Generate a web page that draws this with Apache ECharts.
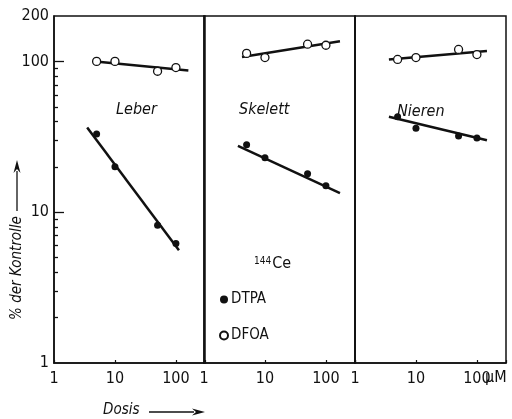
<!DOCTYPE html>
<html>
<head>
<meta charset="utf-8">
<script src="https://cdn.jsdelivr.net/npm/echarts@6/dist/echarts.min.js"></script>
<style>
html, body { margin: 0; padding: 0; background: #fff; }
#main { width: 512px; height: 419px; }
</style>
</head>
<body>
<div id="main"></div>
<script>
// doses (µM) used in every panel
var doses = [5, 10, 50, 100];

// % der Kontrolle
var leberDFOA = [100, 100, 86, 91];
var leberDTPA = [33, 20, 8.2, 6.2];
var skelettDFOA = [113, 106, 130, 128];
var skelettDTPA = [28, 23, 18, 15];
var nierenDFOA = [103, 106, 120, 111];
var nierenDTPA = [43, 36, 32, 31];

// fitted lines: [dose, value] at both ends
var leberDFOAFit = [[4.8, 100], [160, 87]];
var leberDTPAFit = [[3.5, 36.5], [112, 5.6]];
var skelettDFOAFit = [[4.2, 107], [170, 136]];
var skelettDTPAFit = [[3.6, 27.5], [170, 13.4]];
var nierenDFOAFit = [[3.6, 103], [146, 117]];
var nierenDTPAFit = [[3.6, 43], [146, 30]];

var panelNames = ['Leber', 'Skelett', 'Nieren'];
var xTickLabels = [1, 10, 100];
var yTickLabels = [1, 10, 100, 200];
var yMajorTicks = [10, 100];
var yMinorTicks = [2, 3, 4, 5, 6, 7, 8, 9, 20, 30, 40, 50, 60, 70, 80, 90];

var font = '"DejaVu Sans Condensed", "Liberation Sans Narrow", sans-serif';
var ink = '#111';

function pairs(xs, ys) {
    var out = [];
    for (var i = 0; i < xs.length; i++) out.push([xs[i], ys[i]]);
    return out;
}

var panels = [
    {dfoa: leberDFOA, dtpa: leberDTPA, dfoaFit: leberDFOAFit, dtpaFit: leberDTPAFit},
    {dfoa: skelettDFOA, dtpa: skelettDTPA, dfoaFit: skelettDFOAFit, dtpaFit: skelettDTPAFit},
    {dfoa: nierenDFOA, dtpa: nierenDTPA, dfoaFit: nierenDFOAFit, dtpaFit: nierenDTPAFit}
];

var grids = [], xAxes = [], yAxes = [], series = [];
var lefts = [54, 204, 355];

for (var p = 0; p < 3; p++) {
    grids.push({
        left: lefts[p], top: 16, width: 151, height: 347,
        show: true, borderColor: ink, borderWidth: 1.5
    });
    xAxes.push({
        type: 'log', logBase: 10, min: 1, max: 300, gridIndex: p,
        axisLine: {show: true, onZero: false, lineStyle: {color: ink, width: 1.5}},
        splitLine: {show: false},
        axisTick: {show: true, inside: true, length: 3, lineStyle: {color: ink, width: 1.2}},
        axisLabel: {
            margin: 8, color: ink, fontFamily: font, fontSize: 16,
            formatter: function (v) {
                var r = Math.round(v);
                return xTickLabels.indexOf(r) >= 0 && Math.abs(v - r) < 1e-6 ? String(r) : '';
            }
        }
    });
    yAxes.push({
        type: 'log', logBase: 10, min: 1, max: 200, gridIndex: p,
        axisLine: {show: true, onZero: false, lineStyle: {color: ink, width: 1.5}},
        splitLine: {show: false},
        axisTick: {show: false},
        axisLabel: {
            show: p === 0, margin: 5, color: ink, fontFamily: font, fontSize: 16,
            formatter: function (v) {
                var r = Math.round(v);
                return yTickLabels.indexOf(r) >= 0 ? String(r) : '';
            }
        }
    });

    var d = panels[p];
    series.push({
        name: 'fit', type: 'line', xAxisIndex: p, yAxisIndex: p,
        data: d.dtpaFit, symbol: 'none', silent: true,
        lineStyle: {color: ink, width: 2.5}, z: 2
    });
    series.push({
        name: 'fit', type: 'line', xAxisIndex: p, yAxisIndex: p,
        data: d.dfoaFit, symbol: 'none', silent: true,
        lineStyle: {color: ink, width: 2.5}, z: 2
    });
    series.push({
        name: 'DTPA', type: 'scatter', xAxisIndex: p, yAxisIndex: p,
        data: pairs(doses, d.dtpa), symbol: 'circle', symbolSize: 7,
        itemStyle: {color: ink, opacity: 1}, z: 3
    });
    series.push({
        name: 'DFOA', type: 'scatter', xAxisIndex: p, yAxisIndex: p,
        data: pairs(doses, d.dfoa), symbol: 'circle', symbolSize: 8,
        itemStyle: {color: '#fff', borderColor: ink, borderWidth: 1.3, opacity: 1}, z: 3
    });
}

// y ticks on the left axis, on invisible grids over panel 1 (log10 on a linear axis)
function tickAxis(values, len) {
    var g = grids.length;
    grids.push({left: 54, top: 16, width: 151, height: 347, show: false});
    xAxes.push({type: 'value', gridIndex: g, show: false, min: 0, max: 1});
    yAxes.push({
        type: 'value', gridIndex: g, min: 0, max: Math.log10(200), position: 'left',
        axisLine: {show: false}, splitLine: {show: false}, axisLabel: {show: false},
        axisTick: {
            show: true, inside: true, length: len,
            customValues: values.map(function (v) { return Math.log10(v); }),
            lineStyle: {color: ink, width: 1.3}
        }
    });
}
tickAxis(yMajorTicks, 10);
tickAxis(yMinorTicks, 4);

function arrow(x1, y1, x2, y2) {
    var dx = x2 - x1, dy = y2 - y1, len = Math.sqrt(dx * dx + dy * dy);
    var ux = dx / len, uy = dy / len;
    var bx = x2 - ux * 11, by = y2 - uy * 11;
    return [
        {type: 'line', shape: {x1: x1, y1: y1, x2: bx, y2: by}, style: {stroke: ink, lineWidth: 1.3}},
        {type: 'polygon', shape: {points: [
            [x2, y2], [bx - uy * 3.5 - ux * 2, by + ux * 3.5 - uy * 2], [bx + ux * 2, by + uy * 2],
            [bx + uy * 3.5 - ux * 2, by - ux * 3.5 - uy * 2]
        ]}, style: {fill: ink}}
    ];
}

var graphics = [
    {type: 'text', left: 116, top: 102, style: {text: panelNames[0], font: 'italic 16px ' + font, fill: ink}},
    {type: 'text', left: 239, top: 102, style: {text: panelNames[1], font: 'italic 16px ' + font, fill: ink}},
    {type: 'text', left: 397, top: 104, style: {text: panelNames[2], font: 'italic 16px ' + font, fill: ink}},
    {type: 'text', left: 254, top: 256, style: {
        text: '{s|144}Ce', fill: ink, font: '16px ' + font,
        rich: {s: {fontSize: 10, fontFamily: font, verticalAlign: 'top', padding: [0, 1, 6, 0]}}
    }},
    {type: 'text', left: 485, top: 370, style: {text: 'μM', font: '16px ' + font, fill: ink}},
    {type: 'text', x: 17, y: 268, rotation: Math.PI / 2, style: {
        text: '% der Kontrolle', font: 'italic 15px ' + font, fill: ink, align: 'center', verticalAlign: 'middle'
    }},
    {type: 'text', left: 103, top: 403, style: {text: 'Dosis', font: 'italic 15px ' + font, fill: ink}}
].concat(arrow(17, 211, 17, 160), arrow(149, 412, 205, 412));

var myChart = echarts.init(document.getElementById('main'));
myChart.setOption({
    backgroundColor: '#fff',
    animation: false,
    legend: {
        data: ['DTPA', 'DFOA'],
        orient: 'vertical',
        left: 214, top: 287,
        itemWidth: 8, itemHeight: 8, itemGap: 21,
        selectedMode: false,
        textStyle: {color: ink, fontFamily: font, fontSize: 15, padding: [0, 0, 0, -2]}
    },
    grid: grids,
    xAxis: xAxes,
    yAxis: yAxes,
    series: series,
    graphic: graphics
});
</script>
</body>
</html>
